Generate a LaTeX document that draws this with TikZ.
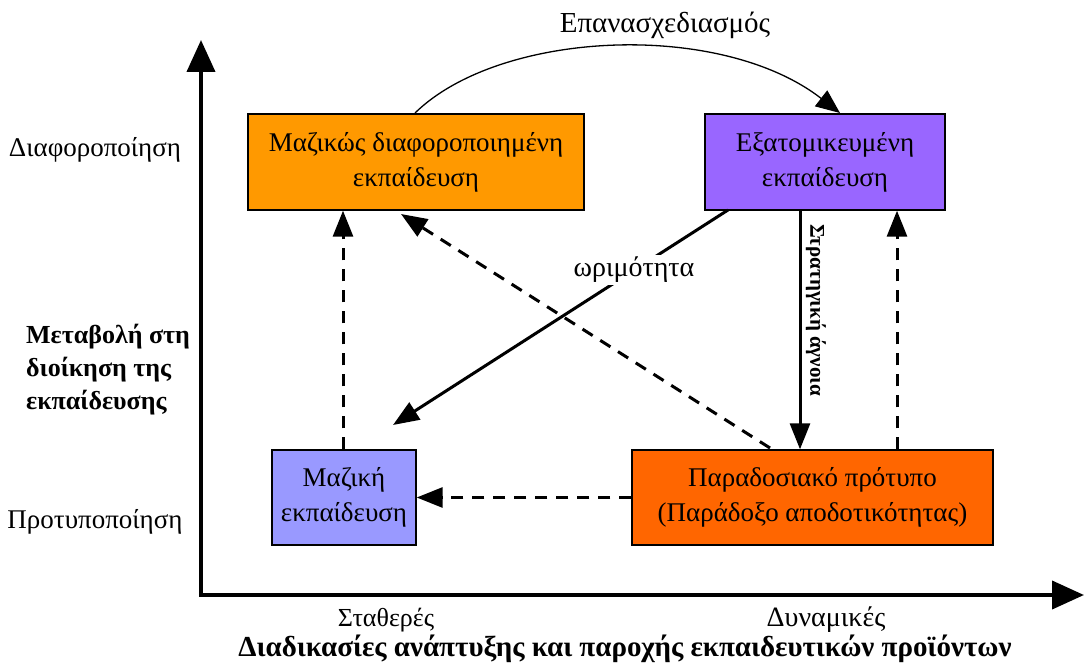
\documentclass[tikz,border=0pt]{standalone}
\usepackage{fontspec}
\setmainfont{Liberation Serif}
\usetikzlibrary{arrows.meta}
\definecolor{orangeA}{HTML}{FF9900}
\definecolor{purpleA}{HTML}{9966FF}
\definecolor{lilacA}{HTML}{9999FF}
\definecolor{redorA}{HTML}{FF6600}
\tikzset{
  box/.style={draw=black, line width=1.4pt, inner sep=0pt, align=center,
    font=\fontsize{27}{35}\selectfont},
  lbl/.style={inner sep=0pt, font=\fontsize{27}{33}\selectfont},
  blbl/.style={inner sep=0pt, font=\fontsize{26}{33}\selectfont\bfseries},
  axis/.style={line width=4pt, -{Triangle[width=28pt,length=32pt]}},
  solidarr/.style={line width=3pt, -{Triangle[width=20pt,length=26pt]}},
  dasharr/.style={line width=3pt, dash pattern=on 12pt off 9pt, -{Triangle[width=20pt,length=26pt]}},
  curvearr/.style={line width=1.3pt, -{Triangle[width=20pt,length=24pt]}},
}
\begin{document}
\begin{tikzpicture}[x=1pt,y=-1pt]
\useasboundingbox (0,0) rectangle (1085,669);
\fill[white] (0,0) rectangle (1085,669);

% axes
\coordinate (o) at (201,595);
\coordinate (ytip) at (201,40);
\coordinate (xo) at (199,595);
\coordinate (xtip) at (1084,595);
\draw[axis] (o) -- (ytip);
\draw[axis] (xo) -- (xtip);

% coordinates for connectors
\coordinate (c1s) at (415,113);
\coordinate (c1e) at (840,113);
\coordinate (d1s) at (770,448);
\coordinate (d1e) at (401,214);
\coordinate (w1s) at (728,210);
\coordinate (w1e) at (393,425);

% connectors drawn below boxes
\draw[dasharr] (d1s) -- (d1e);

% boxes
\node[box, fill=orangeA, minimum width=336pt, minimum height=96pt] (b1) at (416,162) {Μαζικώς διαφοροποιημένη\\εκπαίδευση};
\node[box, fill=purpleA, minimum width=240pt, minimum height=96pt] (b2) at (825,162) {Εξατομικευμένη\\εκπαίδευση};
\node[box, fill=lilacA, minimum width=144pt, minimum height=95pt] (b3) at (344,497.5) {Μαζική\\εκπαίδευση};
\node[box, fill=redorA, minimum width=361pt, minimum height=95pt] (b4) at (812.5,497.5) {Παραδοσιακό πρότυπο\\(Παράδοξο αποδοτικότητας)};

% curved arrow
\draw[curvearr] (c1s) .. controls (500,30) and (720,20) .. (c1e);
\node[lbl, font=\fontsize{29}{33}\selectfont] (redesign) at (665,25) {Επανασχεδιασμός};

% ωριμότητα
\draw[solidarr] (w1s) -- (w1e);
\node[lbl, fill=white, inner sep=2pt, font=\fontsize{28}{33}\selectfont] (mat) at (634,270) {ωριμότητα};

% strategic ignorance
\draw[solidarr] (b2.south -| 800,0) -- (b4.north -| 800,0);
\node[blbl, rotate=-90, font=\fontsize{21}{24}\selectfont\bfseries] (ign) at (816,310) {Στρατηγική άγνοια};

% dashed verticals
\draw[dasharr] (b3.north -| 343,0) -- (b1.south -| 343,0);
\draw[dasharr] (b4.north -| 897,0) -- (b2.south -| 897,0);
% dashed horizontal
\draw[dasharr] (b4.west) -- (b3.east);

% axis labels
\node[lbl] (ydiff) at (95,150) {Διαφοροποίηση};
\node[lbl] (ystd) at (95,522) {Προτυποποίηση};
\node[blbl, align=left, anchor=west] (ytitle) at (26,370) {Μεταβολή στη\\διοίκηση της\\εκπαίδευσης};
\node[lbl, font=\fontsize{26}{33}\selectfont] (xfix) at (386,620) {Σταθερές};
\node[lbl, font=\fontsize{28}{33}\selectfont] (xdyn) at (826,620) {Δυναμικές};
\node[blbl, font=\fontsize{29}{33}\selectfont\bfseries] (xtitle) at (625,649) {Διαδικασίες ανάπτυξης και παροχής εκπαιδευτικών προϊόντων};
\end{tikzpicture}
\end{document}
